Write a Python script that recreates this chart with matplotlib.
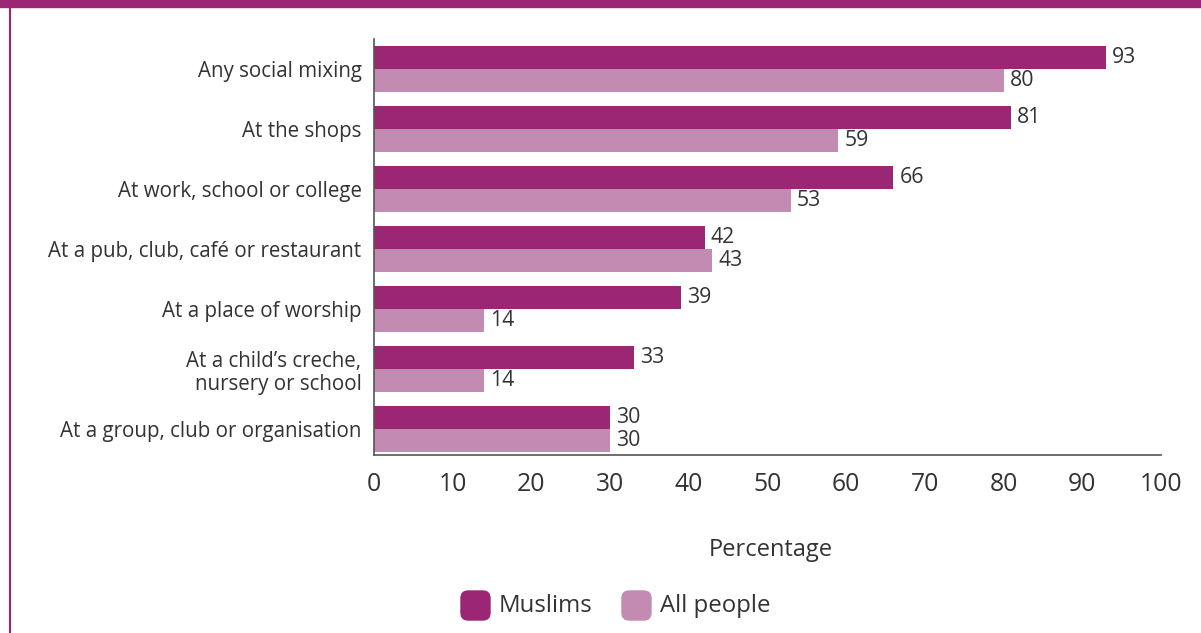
import matplotlib.pyplot as plt
import numpy as np
from matplotlib.patches import FancyBboxPatch, Rectangle
from matplotlib.lines import Line2D

plt.rcParams['font.family'] = ['Open Sans', 'DejaVu Sans']

# ---- data ----
categories = [
    "Any social mixing",
    "At the shops",
    "At work, school or college",
    "At a pub, club, café or restaurant",
    "At a place of worship",
    "At a child\u2019s creche,\nnursery or school",
    "At a group, club or organisation",
]
muslims = [93, 81, 66, 42, 39, 33, 30]
all_people = [80, 59, 53, 43, 14, 14, 30]
xticks = [0, 10, 20, 30, 40, 50, 60, 70, 80, 90, 100]

c_muslim = "#9b2673"
c_all = "#c38bb2"
c_text = "#333333"

W, H = 1201, 633
fig = plt.figure(figsize=(W / 100, H / 100), dpi=100)
ax = fig.add_axes([374 / W, 1 - 455 / H, (1161 - 374) / W, (455 - 39) / H])

y = np.arange(len(categories))
h = 0.385
ax.barh(y - h / 2, muslims, height=h, color=c_muslim)
ax.barh(y + h / 2, all_people, height=h, color=c_all)

for yi, m, a in zip(y, muslims, all_people):
    ax.text(m + 0.75, yi - h / 2, str(m), va="center", ha="left", fontsize=15.3, color=c_text)
    ax.text(a + 0.75, yi + h / 2, str(a), va="center", ha="left", fontsize=15.3, color=c_text)

ax.set_xlim(0, 100)
ax.set_ylim(len(categories) - 1 + 0.43, -0.5)
ax.set_xticks(xticks)
ax.set_xticklabels([str(t) for t in xticks], fontsize=17.8, color=c_text)
ax.set_yticks(y)
ax.set_yticklabels(categories, fontsize=14.8, color=c_text, linespacing=1.12)
ax.tick_params(axis="both", length=0)
ax.tick_params(axis="x", pad=12)
ax.tick_params(axis="y", pad=9)
for s in ["top", "right"]:
    ax.spines[s].set_visible(False)
for s in ["left", "bottom"]:
    ax.spines[s].set_color("#555555")
    ax.spines[s].set_linewidth(1.2)

fig.text(771 / W, 1 - 550 / H, "Percentage", ha="center", va="center", fontsize=17, color=c_text)

# legend with rounded swatches
ly = 1 - 606 / H
for x0, col, lab in [(461, c_muslim, "Muslims"), (622, c_all, "All people")]:
    sw = FancyBboxPatch((x0 / W, ly - 14 / H), 29 / W, 29 / H,
                        boxstyle="round,pad=0,rounding_size=0.006",
                        transform=fig.transFigure, color=col, mutation_aspect=W / H)
    fig.patches.append(sw)
    fig.text((x0 + 38) / W, ly, lab, ha="left", va="center", fontsize=17.3, color=c_text)

# frame: top band and left rule
fig.patches.append(Rectangle((0, 1 - 7 / H), 1, 7 / H, transform=fig.transFigure, color=c_muslim))
fig.lines.append(Line2D([10 / W, 10 / W], [0, 1], transform=fig.transFigure, color=c_muslim, lw=1.5))

fig.savefig("out.png", dpi=100)
